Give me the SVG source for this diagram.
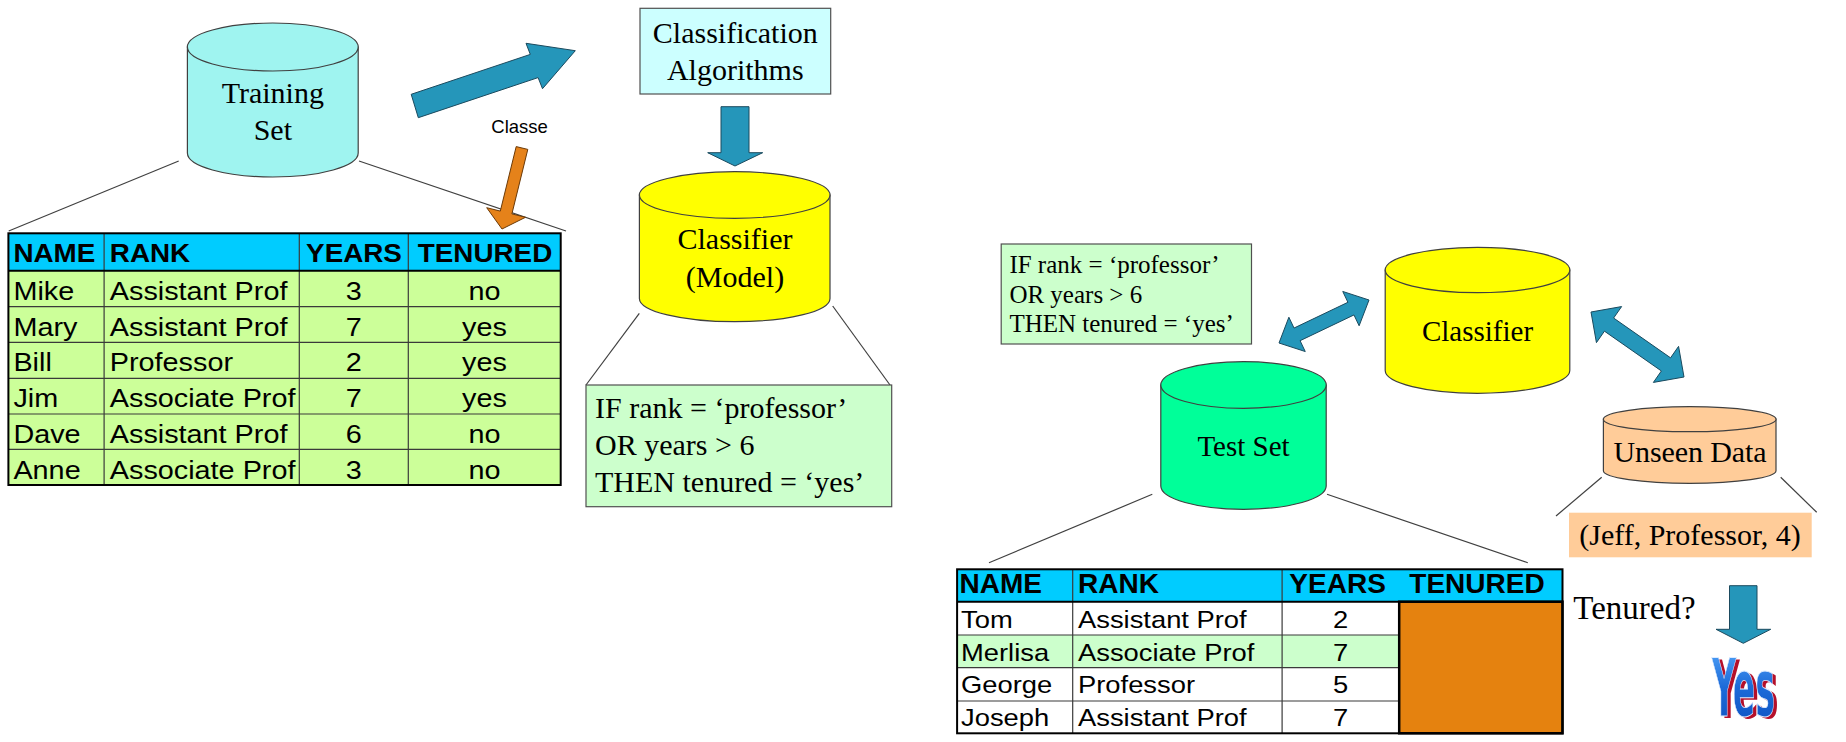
<svg xmlns="http://www.w3.org/2000/svg" width="1846" height="742" viewBox="0 0 1846 742">
<defs>
<style>
.serif{font-family:"Liberation Serif","Times New Roman",serif;fill:#000}
.sans{font-family:"Liberation Sans",Arial,sans-serif;fill:#000}
.hdr{font-family:"Liberation Sans",Arial,sans-serif;font-weight:bold;fill:#000}
.cyl{stroke:#404040;stroke-width:1.2}
.box{stroke:#505050;stroke-width:1.2}
.conn{stroke:#404040;stroke-width:1.2;fill:none}
.blue{fill:#2596BA;stroke:#1B4A5E;stroke-width:1}
.grid{stroke:#3a3a3a;stroke-width:1.2}
.mid{text-anchor:middle}
</style>
<linearGradient id="yesGrad" x1="0" y1="0" x2="0" y2="1">
<stop offset="0" stop-color="#5AAEFF"/>
<stop offset="0.5" stop-color="#1C6AD8"/>
<stop offset="1" stop-color="#0B4FBE"/>
</linearGradient>
</defs>
<rect width="1846" height="742" fill="#fff"/>

<g id="connectors">
<line class="conn" x1="178.7" y1="161" x2="8.7" y2="231"/>
<line class="conn" x1="359" y1="161" x2="566" y2="231"/>
<line class="conn" x1="639.3" y1="313.3" x2="586" y2="385"/>
<line class="conn" x1="832.7" y1="306" x2="890" y2="385"/>
<line class="conn" x1="1152.3" y1="494.3" x2="989" y2="562.7"/>
<line class="conn" x1="1327" y1="494.3" x2="1527.8" y2="562.7"/>
<line class="conn" x1="1601.7" y1="477.3" x2="1556" y2="516"/>
<line class="conn" x1="1780.7" y1="477.3" x2="1816.7" y2="512.3"/>
<polygon class="blue" points="411.2,94.3 530.3,54.4 526,43.3 575.3,50.7 542.5,88.7 538.1,77.6 418.3,117.7"/>
<polygon points="516.2,146.6 527.8,149.4 511.9,213.9 525.5,217.3 502,229 486.7,207.7 500.3,211.1" fill="#E5821A" stroke="#6B3A08" stroke-width="1"/>
<polygon class="blue" points="721,106.7 749,106.7 749,152.7 762.7,152.7 735,166 707.7,152.7 721,152.7"/>
<polygon class="blue" points="1279,343 1288.87,317.22 1294.04,328.06 1347.92,302.3 1342.75,291.46 1369,300 1359.13,325.78 1353.96,314.94 1300.08,340.7 1305.25,351.54"/>
<polygon class="blue" points="1591,312 1621.63,306.57 1613.61,318.04 1670.55,357.84 1678.57,346.37 1684,377 1653.37,382.43 1661.39,370.96 1604.45,331.16 1596.43,342.63"/>
<polygon class="blue" points="1729.5,585.7 1757,585.7 1757,629.3 1770.7,629.3 1743.3,643.3 1716,629.3 1729.5,629.3"/>
</g>

<g id="training-set">
<path class="cyl" fill="#9FF4F0" d="M187.4,47 L187.4,153 A85.4,24 0 0 0 358.2,153 L358.2,47 Z"/>
<ellipse class="cyl" fill="#9FF4F0" cx="272.8" cy="47" rx="85.4" ry="24"/>
<text class="serif mid" x="272.8" y="103" font-size="30">Training</text>
<text class="serif mid" x="272.8" y="140" font-size="30">Set</text>
</g>

<g id="classe-label">
<text class="sans mid" x="519.6" y="133" font-size="18.5">Classe</text>
</g>

<g id="training-table">
<rect x="8.4" y="233.3" width="552.3" height="37.4" fill="#00CCFF"/>
<rect x="8.4" y="270.7" width="552.3" height="214.3" fill="#CCFF99"/>
<g class="grid">
<line x1="8.4" y1="306.7" x2="560.7" y2="306.7"/>
<line x1="8.4" y1="342.3" x2="560.7" y2="342.3"/>
<line x1="8.4" y1="378.3" x2="560.7" y2="378.3"/>
<line x1="8.4" y1="414" x2="560.7" y2="414"/>
<line x1="8.4" y1="449.3" x2="560.7" y2="449.3"/>
<line x1="104.1" y1="233.3" x2="104.1" y2="485"/>
<line x1="299.3" y1="233.3" x2="299.3" y2="485"/>
<line x1="408.3" y1="233.3" x2="408.3" y2="485"/>
</g>
<line x1="8.4" y1="270.7" x2="560.7" y2="270.7" stroke="#000" stroke-width="2"/>
<rect x="8.4" y="233.3" width="552.3" height="251.7" fill="none" stroke="#000" stroke-width="2"/>
<g font-size="26.5">
<text class="hdr" transform="translate(13.4 262.3) scale(1.05 1)">NAME</text>
<text class="hdr" transform="translate(109.8 262.3) scale(1.05 1)">RANK</text>
<text class="hdr mid" transform="translate(354 262.3) scale(1.05 1)">YEARS</text>
<text class="hdr mid" transform="translate(485 262.3) scale(1.05 1)">TENURED</text>
</g>
<g font-size="25.5">
<text class="sans" transform="translate(13.4 300) scale(1.13 1)">Mike</text>
<text class="sans" transform="translate(109.8 300) scale(1.13 1)">Assistant Prof</text>
<text class="sans mid" transform="translate(353.8 300) scale(1.13 1)">3</text>
<text class="sans mid" transform="translate(484.5 300) scale(1.13 1)">no</text>
<text class="sans" transform="translate(13.4 335.7) scale(1.13 1)">Mary</text>
<text class="sans" transform="translate(109.8 335.7) scale(1.13 1)">Assistant Prof</text>
<text class="sans mid" transform="translate(353.8 335.7) scale(1.13 1)">7</text>
<text class="sans mid" transform="translate(484.5 335.7) scale(1.13 1)">yes</text>
<text class="sans" transform="translate(13.4 371.4) scale(1.13 1)">Bill</text>
<text class="sans" transform="translate(109.8 371.4) scale(1.13 1)">Professor</text>
<text class="sans mid" transform="translate(353.8 371.4) scale(1.13 1)">2</text>
<text class="sans mid" transform="translate(484.5 371.4) scale(1.13 1)">yes</text>
<text class="sans" transform="translate(13.4 407) scale(1.13 1)">Jim</text>
<text class="sans" transform="translate(109.8 407) scale(1.13 1)">Associate Prof</text>
<text class="sans mid" transform="translate(353.8 407) scale(1.13 1)">7</text>
<text class="sans mid" transform="translate(484.5 407) scale(1.13 1)">yes</text>
<text class="sans" transform="translate(13.4 442.8) scale(1.13 1)">Dave</text>
<text class="sans" transform="translate(109.8 442.8) scale(1.13 1)">Assistant Prof</text>
<text class="sans mid" transform="translate(353.8 442.8) scale(1.13 1)">6</text>
<text class="sans mid" transform="translate(484.5 442.8) scale(1.13 1)">no</text>
<text class="sans" transform="translate(13.4 478.5) scale(1.13 1)">Anne</text>
<text class="sans" transform="translate(109.8 478.5) scale(1.13 1)">Associate Prof</text>
<text class="sans mid" transform="translate(353.8 478.5) scale(1.13 1)">3</text>
<text class="sans mid" transform="translate(484.5 478.5) scale(1.13 1)">no</text>
</g>
</g>

<g id="classification-algorithms">
<rect class="box" x="640" y="8.3" width="190.7" height="85.7" fill="#CCFFFF"/>
<text class="serif mid" x="735.3" y="43.3" font-size="30">Classification</text>
<text class="serif mid" x="735.3" y="80" font-size="30">Algorithms</text>
</g>

<g id="classifier-model">
<path class="cyl" fill="#FFFF00" d="M639.4,195 L639.4,298.4 A95.3,23.3 0 0 0 830,298.4 L830,195 Z"/>
<ellipse class="cyl" fill="#FFFF00" cx="734.7" cy="195" rx="95.3" ry="23.3"/>
<text class="serif mid" x="735" y="249.3" font-size="30">Classifier</text>
<text class="serif mid" x="735" y="286.7" font-size="30">(Model)</text>
</g>

<g id="rules-model">
<rect class="box" x="586" y="385" width="305.7" height="121.7" fill="#CCFFCC"/>
<text class="serif" x="595" y="418.3" font-size="30">IF rank = ‘professor’</text>
<text class="serif" x="595" y="455" font-size="30">OR years &gt; 6</text>
<text class="serif" x="595" y="491.7" font-size="30">THEN tenured = ‘yes’</text>
</g>

<g id="rules-small">
<rect class="box" x="1001.2" y="244" width="250.3" height="100" fill="#CCFFCC"/>
<text class="serif" x="1009.4" y="273" font-size="25">IF rank = ‘professor’</text>
<text class="serif" x="1009.4" y="302.7" font-size="25">OR years &gt; 6</text>
<text class="serif" x="1009.4" y="331.7" font-size="25">THEN tenured = ‘yes’</text>
</g>

<g id="classifier">
<path class="cyl" fill="#FFFF00" d="M1385.2,270 L1385.2,370.6 A92.3,22.7 0 0 0 1569.8,370.6 L1569.8,270 Z"/>
<ellipse class="cyl" fill="#FFFF00" cx="1477.5" cy="270" rx="92.3" ry="22.7"/>
<text class="serif mid" x="1477.5" y="341" font-size="29">Classifier</text>
</g>

<g id="test-set">
<path class="cyl" fill="#00FF99" d="M1160.8,385 L1160.8,486 A82.7,23.3 0 0 0 1326.2,486 L1326.2,385 Z"/>
<ellipse class="cyl" fill="#00FF99" cx="1243.5" cy="385" rx="82.7" ry="23.3"/>
<text class="serif mid" x="1243.5" y="456" font-size="29">Test Set</text>
</g>

<g id="unseen-data">
<path class="cyl" fill="#FFCC99" d="M1603.4,419.2 L1603.4,470.8 A86.3,12.5 0 0 0 1776,470.8 L1776,419.2 Z"/>
<ellipse class="cyl" fill="#FFCC99" cx="1689.7" cy="419.2" rx="86.3" ry="12.5"/>
<text class="serif mid" x="1690" y="461.7" font-size="30" textLength="153" lengthAdjust="spacing">Unseen Data</text>
</g>

<g id="jeff">
<rect x="1569" y="512.7" width="242.7" height="44.6" fill="#FFCC99"/>
<text class="serif mid" x="1690" y="545" font-size="30">(Jeff, Professor, 4)</text>
</g>

<g id="test-table">
<rect x="957.1" y="569.3" width="605.4" height="32.4" fill="#00CCFF"/>
<rect x="957.1" y="601.7" width="442.1" height="131.6" fill="#FFFFFF"/>
<rect x="957.1" y="635" width="442.1" height="32.7" fill="#CCFFCC"/>
<rect x="1399.2" y="601.7" width="163.3" height="131.6" fill="#E5820F"/>
<g class="grid">
<line x1="957.1" y1="635" x2="1399.2" y2="635"/>
<line x1="957.1" y1="667.7" x2="1399.2" y2="667.7"/>
<line x1="957.1" y1="701" x2="1399.2" y2="701"/>
<line x1="1072.7" y1="569.3" x2="1072.7" y2="733.3"/>
<line x1="1282.1" y1="569.3" x2="1282.1" y2="733.3"/>
</g>
<line x1="957.1" y1="601.7" x2="1562.5" y2="601.7" stroke="#000" stroke-width="2"/>
<rect x="1399.2" y="601.7" width="163.3" height="131.6" fill="none" stroke="#000" stroke-width="2.5"/>
<rect x="957.1" y="569.3" width="605.4" height="164" fill="none" stroke="#000" stroke-width="2"/>
<g font-size="28">
<text class="hdr" x="959.6" y="593.3">NAME</text>
<text class="hdr" x="1078" y="593.3">RANK</text>
<text class="hdr mid" x="1337.6" y="593.3">YEARS</text>
<text class="hdr mid" x="1477" y="593.3">TENURED</text>
</g>
<g font-size="24">
<text class="sans" transform="translate(961 628.3) scale(1.14 1)">Tom</text>
<text class="sans" transform="translate(1078 628.3) scale(1.14 1)">Assistant Prof</text>
<text class="sans mid" transform="translate(1340.6 628.3) scale(1.14 1)">2</text>
<text class="sans" transform="translate(961 660.5) scale(1.14 1)">Merlisa</text>
<text class="sans" transform="translate(1078 660.5) scale(1.14 1)">Associate Prof</text>
<text class="sans mid" transform="translate(1340.6 660.5) scale(1.14 1)">7</text>
<text class="sans" transform="translate(961 693.3) scale(1.14 1)">George</text>
<text class="sans" transform="translate(1078 693.3) scale(1.14 1)">Professor</text>
<text class="sans mid" transform="translate(1340.6 693.3) scale(1.14 1)">5</text>
<text class="sans" transform="translate(961 725.5) scale(1.14 1)">Joseph</text>
<text class="sans" transform="translate(1078 725.5) scale(1.14 1)">Assistant Prof</text>
<text class="sans mid" transform="translate(1340.6 725.5) scale(1.14 1)">7</text>
</g>
</g>

<g id="tenured-question">
<text class="serif" x="1573.3" y="619" font-size="33">Tenured?</text>
</g>

<g id="yes">
<text transform="translate(1715.5 718) scale(1 1.84)" font-family="'Liberation Sans Narrow','DejaVu Sans Condensed','Liberation Sans',sans-serif" font-weight="bold" font-size="44" textLength="63" lengthAdjust="spacingAndGlyphs" fill="#B5102A">Yes</text>
<text transform="translate(1712 715.5) scale(1 1.84)" font-family="'Liberation Sans Narrow','DejaVu Sans Condensed','Liberation Sans',sans-serif" font-weight="bold" font-size="44" textLength="63" lengthAdjust="spacingAndGlyphs" fill="url(#yesGrad)" stroke="#DDEBFF" stroke-width="0.5">Yes</text>
</g>
</svg>
